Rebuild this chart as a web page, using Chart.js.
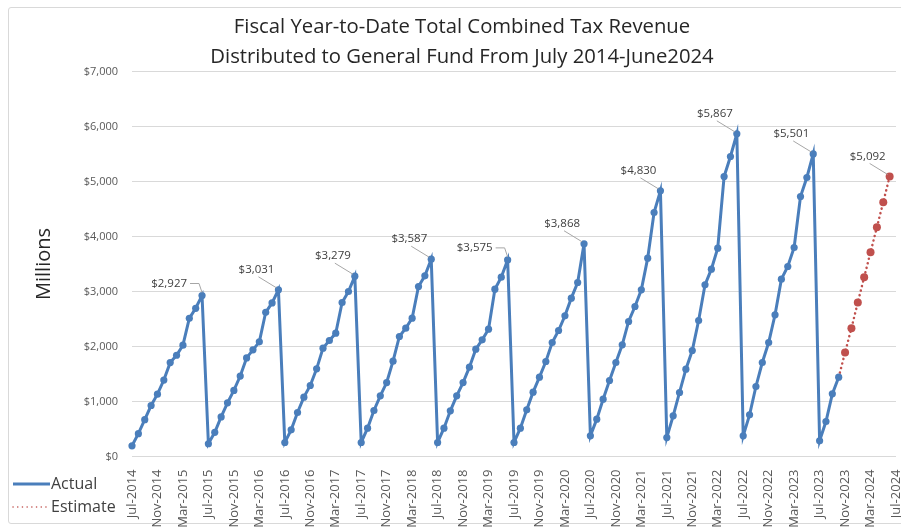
<!DOCTYPE html>
<html>
<head>
<meta charset="utf-8">
<script src="https://cdn.jsdelivr.net/npm/chart.js@4.4.1/dist/chart.umd.min.js"></script>
<style>
  html, body { margin: 0; padding: 0; background: #fff; }
  #wrap { position: relative; width: 901px; height: 527px; overflow: hidden; }
  #frame { position: absolute; left: 8px; top: 7px; width: 900px; height: 515px; border: 1px solid #d9d9d9; border-radius: 3px; }
  canvas { position: absolute; left: 0; top: 0; }
</style>
</head>
<body>
<div id="wrap"><div id="frame"></div><canvas id="chart" width="901" height="527"></canvas></div>
<script>
// months Jul-2014 .. Jul-2024 (axis runs one month past the last data point)
const monthNames = ['Jan','Feb','Mar','Apr','May','Jun','Jul','Aug','Sep','Oct','Nov','Dec'];
const months = [];
for (let i = 0; i < 121; i++) {
  months.push(monthNames[(6 + i) % 12] + '-' + (2014 + Math.floor((6 + i) / 12)));
}

// fiscal year-to-date totals, $ millions (Jul..Jun)
const fy2015 = [195, 415, 670, 927, 1134, 1390, 1707, 1841, 2024, 2512, 2695, 2927];
const fy2016 = [232, 439, 720, 976, 1201, 1463, 1793, 1939, 2085, 2622, 2793, 3031];
const fy2017 = [255, 485, 800, 1079, 1291, 1594, 1970, 2109, 2242, 2800, 3000, 3279];
const fy2018 = [255, 515, 836, 1103, 1345, 1733, 2182, 2333, 2515, 3091, 3285, 3587];
const fy2019 = [255, 515, 830, 1103, 1345, 1624, 1952, 2121, 2315, 3042, 3261, 3575];
const fy2020 = [255, 515, 848, 1170, 1442, 1727, 2073, 2291, 2558, 2879, 3164, 3868];
const fy2021 = [376, 679, 1042, 1382, 1709, 2030, 2455, 2727, 3030, 3606, 4436, 4830];
const fy2022 = [345, 739, 1164, 1588, 1927, 2473, 3121, 3406, 3788, 5091, 5455, 5867];
const fy2023 = [376, 758, 1273, 1709, 2073, 2576, 3224, 3455, 3800, 4727, 5073, 5501];
const fy2024Actual = [285, 636, 1139, 1442];
const fy2024Estimate = [1891, 2333, 2800, 3261, 3715, 4170, 4624, 5092];

const fiscalYears = [fy2015, fy2016, fy2017, fy2018, fy2019, fy2020, fy2021, fy2022, fy2023];

const actual = [].concat(...fiscalYears, fy2024Actual);
const estStart = actual.length - 1; // dotted line starts at the last actual point
const estimate = [];
for (let i = 0; i < months.length; i++) estimate.push(null);
estimate[estStart] = actual[estStart];
fy2024Estimate.forEach((v, k) => { estimate[estStart + 1 + k] = v; });
while (actual.length < months.length) actual.push(null);

const peakIdx = fiscalYears.map((fy, k) => k * 12 + 11);
const estPeakIdx = estStart + fy2024Estimate.length;
// 'elbow' labels sit beside the point with a bent leader line
const peakLabelStyle = ['elbow', 'diag', 'diag', 'diag', 'elbow', 'diag', 'diag', 'diag', 'diag', 'diag'];

const BLUE = '#4a7ebb';
const RED = '#c0504d';
const TEXT = '#404040';
const FONT = "'Open Sans', sans-serif";

const fmt = v => '$' + v.toLocaleString('en-US');

const titlePlugin = {
  id: 'excelTitle',
  afterDraw(chart) {
    const c = chart.ctx;
    c.save();
    c.fillStyle = '#262626';
    c.font = "20.3px " + FONT;
    c.textAlign = 'center';
    c.textBaseline = 'middle';
    c.fillText('Fiscal Year-to-Date Total Combined Tax Revenue', 462, 27);
    c.fillText('Distributed to General Fund From July 2014-June2024', 462, 57);
    c.restore();
  }
};

const peakLabels = {
  id: 'peakLabels',
  afterDatasetsDraw(chart) {
    const c = chart.ctx;
    const pts = peakIdx.map(i => ({ el: chart.getDatasetMeta(0).data[i], v: actual[i] }));
    pts.push({ el: chart.getDatasetMeta(1).data[estPeakIdx], v: estimate[estPeakIdx] });
    c.save();
    c.font = "11.5px " + FONT;
    c.fillStyle = TEXT;
    c.strokeStyle = '#a6a6a6';
    c.lineWidth = 1;
    c.textBaseline = 'middle';
    c.textAlign = 'right';
    pts.forEach((p, k) => {
      const x = p.el.x, y = p.el.y;
      const txt = fmt(p.v);
      c.beginPath();
      if (peakLabelStyle[k] === 'elbow') {
        const tx = x - 15, ty = y - 12;
        c.fillText(txt, tx, ty);
        c.moveTo(tx + 3, ty);
        c.lineTo(x - 3, ty);
        c.lineTo(x, y - 3);
      } else {
        const tx = x - 4, ty = y - 20;
        c.fillText(txt, tx, ty);
        c.moveTo(tx - 16, ty + 7);
        c.lineTo(x - 2, y - 2);
      }
      c.stroke();
    });
    c.restore();
  }
};

const legendPlugin = {
  id: 'sideLegend',
  afterDraw(chart) {
    const c = chart.ctx;
    const ds = chart.data.datasets;
    c.save();
    c.font = "16px " + FONT;
    c.fillStyle = TEXT;
    c.textBaseline = 'middle';
    ds.forEach((d, k) => {
      const y = 484 + k * 23;
      c.beginPath();
      c.strokeStyle = d.borderColor;
      c.lineWidth = k === 0 ? 3 : 1.5;
      c.setLineDash(d.borderDash || []);
      c.lineCap = k === 0 ? 'butt' : 'round';
      c.moveTo(13, y);
      c.lineTo(50, y);
      c.stroke();
      c.setLineDash([]);
      c.fillText(d.label, 51, y);
    });
    c.restore();
  }
};

new Chart(document.getElementById('chart'), {
  type: 'line',
  data: {
    labels: months,
    datasets: [
      {
        label: 'Actual',
        data: actual,
        borderColor: BLUE,
        backgroundColor: BLUE,
        borderWidth: 3,
        pointRadius: 3.6,
        pointBorderWidth: 0,
        pointBackgroundColor: BLUE,
        tension: 0
      },
      {
        label: 'Estimate',
        data: estimate,
        borderColor: RED,
        backgroundColor: RED,
        borderWidth: 2.5,
        borderDash: [0.1, 4.6],
        borderCapStyle: 'round',
        pointRadius: ctx => ctx.dataIndex === estStart ? 0 : 4,
        pointBorderWidth: 0,
        pointBackgroundColor: RED,
        tension: 0
      }
    ]
  },
  options: {
    responsive: false,
    animation: false,
    layout: { padding: { left: 10, right: 5, top: 71.5, bottom: 0 } },
    plugins: {
      legend: { display: false },
      tooltip: { enabled: false }
    },
    scales: {
      x: {
        grid: { display: false },
        border: { display: false },
        ticks: {
          autoSkip: false,
          minRotation: 90,
          maxRotation: 90,
          padding: 5,
          color: '#595959',
          font: { family: FONT, size: 13 },
          callback: (v, i) => (i % 4 === 0 ? months[i] : null)
        },
        afterFit: s => { s.height = 70.5; s.paddingLeft = 0; s.paddingRight = 0; }
      },
      y: {
        min: 0,
        max: 7000,
        border: { display: false },
        grid: { color: '#d9d9d9', drawTicks: false },
        ticks: {
          stepSize: 1000,
          padding: 14,
          color: '#595959',
          font: { family: FONT, size: 11 },
          callback: v => fmt(v)
        },
        title: {
          display: true,
          text: 'Millions',
          color: '#262626',
          font: { family: FONT, size: 20 },
          padding: { top: 22, bottom: 0 }
        },
        afterFit: s => { s.width = 122; }
      }
    }
  },
  plugins: [titlePlugin, peakLabels, legendPlugin]
});
</script>
</body>
</html>
